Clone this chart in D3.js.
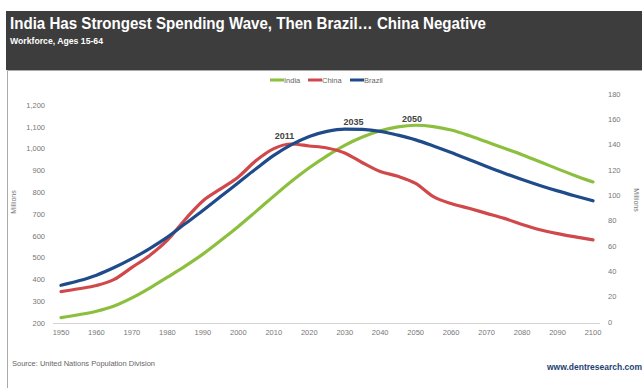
<!DOCTYPE html>
<html lang="en">
<head>
    <meta charset="UTF-8">
    <title>Workforce, Ages 15-64</title>
    <script src="https://d3js.org/d3.v7.min.js"></script>
    <style>
        body { margin: 0; background: #fff; }
        text { font-family: "Liberation Sans", Arial, sans-serif; }
    </style>
</head>
<body>
    <div id="chart"></div>

    <script>
        // years every 5, India and China in millions (left axis), Brazil (right axis)
        const years = d3.range(1950, 2101, 5);
        const india = [225, 238, 254, 278, 315, 360, 410, 461, 516, 578, 643, 712, 782, 850, 912, 967,
                       1015, 1053, 1082, 1100, 1107, 1101, 1085, 1060, 1031, 1002, 972, 940, 907, 876, 847];
        const china = [344, 357, 372, 400, 455, 510, 580, 675, 760, 815, 870, 945, 1000, 1021, 1012, 1003,
                       980, 935, 895, 873, 840, 780, 748, 726, 703, 680, 652, 628, 610, 595, 581];
        const brazil = [29, 32.5, 37, 43, 50, 58, 67, 77.5, 88, 99, 110, 121, 131.5, 140, 146.5, 150.5,
                        152.3, 152, 150.5, 147.5, 143.8, 139, 133.8, 128.3, 122.8, 117.5, 112.5, 107.8, 103.5, 99.5, 95.7];
        const leftTicks = [200, 300, 400, 500, 600, 700, 800, 900, 1000, 1100, 1200];
        const rightTicks = [0, 20, 40, 60, 80, 100, 120, 140, 160, 180];
        const xTicks = d3.range(1950, 2101, 10);
        const names = ["India", "China", "Brazil"];
        const colors = ["#8dbf3f", "#d0484a", "#1f4b8a"];

        const W = 642, H = 388;
        const svg = d3.select("#chart").append("svg")
            .attr("width", W).attr("height", H);

        // header
        svg.append("rect").attr("x", 6).attr("y", 11).attr("width", W - 6).attr("height", 59)
            .attr("fill", "#3d3d3d");
        svg.append("text").attr("x", 10).attr("y", 29)
            .attr("fill", "#fff").attr("font-weight", "bold").attr("font-size", 16)
            .attr("textLength", 476).attr("lengthAdjust", "spacingAndGlyphs")
            .text("India Has Strongest Spending Wave, Then Brazil\u2026 China Negative");
        svg.append("text").attr("x", 10).attr("y", 44)
            .attr("fill", "#fff").attr("font-weight", "bold").attr("font-size", 8.5)
            .attr("textLength", 93).attr("lengthAdjust", "spacingAndGlyphs")
            .text("Workforce, Ages 15-64");

        // frame
        svg.append("path").attr("d", "M7.5," + H + "V70.5H" + W)
            .attr("fill", "none").attr("stroke", "#aaa");

        const x = d3.scaleLinear().domain([1950, 2100]).range([61, 593]);
        const yL = d3.scaleLinear().domain([200, 1200]).range([323, 105]);
        const yR = d3.scaleLinear().domain([0, 180]).range([322, 94]);

        // baseline
        svg.append("line").attr("x1", 53).attr("x2", 600).attr("y1", 323.5).attr("y2", 323.5)
            .attr("stroke", "#d4d4d4");

        const tickFont = 7.5, tickCol = "#777";
        svg.append("g").selectAll("text").data(xTicks).join("text")
            .attr("x", d => x(d)).attr("y", 335)
            .attr("text-anchor", "middle").attr("font-size", tickFont).attr("fill", tickCol)
            .text(d => d);
        svg.append("g").selectAll("text").data(leftTicks).join("text")
            .attr("x", 45).attr("y", d => yL(d) + 2.7)
            .attr("text-anchor", "end").attr("font-size", tickFont).attr("fill", tickCol)
            .text(d => d3.format(",")(d));
        svg.append("g").selectAll("text").data(rightTicks).join("text")
            .attr("x", 608).attr("y", d => yR(d) + 2.7)
            .attr("font-size", tickFont).attr("fill", tickCol)
            .text(d => d);

        svg.append("text").attr("transform", "translate(16,202) rotate(-90)")
            .attr("text-anchor", "middle").attr("font-size", 7).attr("fill", tickCol).text("Millions");
        svg.append("text").attr("transform", "translate(634,200) rotate(90)")
            .attr("text-anchor", "middle").attr("font-size", 7).attr("fill", tickCol).text("Millions");

        // lines
        const series = [
            { vals: india, y: yL },
            { vals: china, y: yL },
            { vals: brazil, y: yR }
        ];
        series.forEach((s, i) => {
            const line = d3.line()
                .x((d, j) => x(years[j]))
                .y(d => s.y(d))
                .curve(d3.curveMonotoneX);
            svg.append("path").datum(s.vals)
                .attr("d", line)
                .attr("fill", "none")
                .attr("stroke", colors[i])
                .attr("stroke-width", 3.2)
                .attr("stroke-linecap", "round");
        });

        // legend
        const legX = [270, 308, 350];
        names.forEach((n, i) => {
            svg.append("line").attr("x1", legX[i]).attr("x2", legX[i] + 14)
                .attr("y1", 80).attr("y2", 80)
                .attr("stroke", colors[i]).attr("stroke-width", 3);
            svg.append("text").attr("x", legX[i] + 14).attr("y", 82.7)
                .attr("font-size", 7.5).attr("fill", "#666").text(n);
        });

        // peak labels
        const peaks = [
            { label: "2011", year: 2013, v: china[13], y: yL, dy: -5 },
            { label: "2035", year: 2032.5, v: brazil[16], y: yR, dy: -4 },
            { label: "2050", year: 2049, v: india[20], y: yL, dy: -3 }
        ];
        peaks.forEach(p => {
            svg.append("text").attr("x", x(p.year)).attr("y", p.y(p.v) + p.dy)
                .attr("text-anchor", "middle").attr("font-size", 9).attr("font-weight", "bold")
                .attr("fill", "#444").text(p.label);
        });

        // footer
        svg.append("text").attr("x", 12).attr("y", 366)
            .attr("font-size", 7.5).attr("fill", "#666")
            .text("Source: United Nations Population Division");
        svg.append("text").attr("x", 547).attr("y", 370)
            .attr("font-size", 8.5).attr("font-weight", "bold").attr("fill", "#1f3f72")
            .attr("textLength", 95).attr("lengthAdjust", "spacingAndGlyphs")
            .text("www.dentresearch.com");
    </script>
</body>
</html>
